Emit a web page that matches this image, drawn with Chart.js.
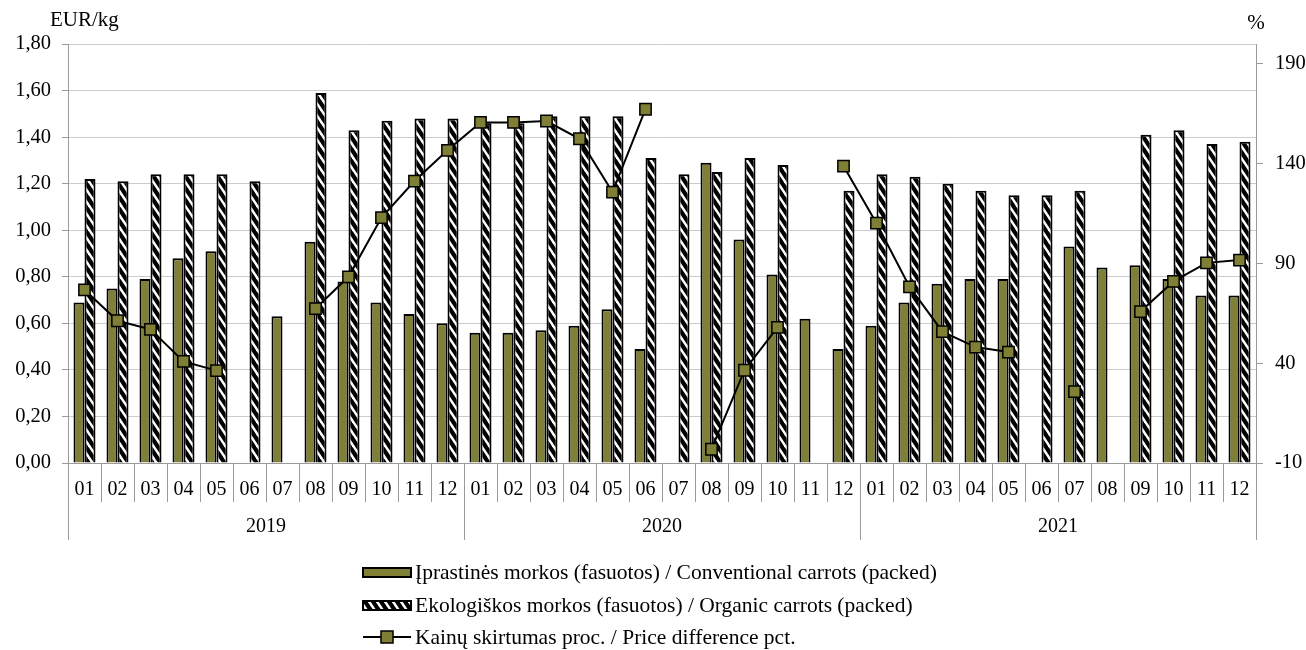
<!DOCTYPE html>
<html>
<head>
<meta charset="utf-8">
<script src="https://cdn.jsdelivr.net/npm/chart.js@4"></script>
<style>
  html, body { margin: 0; padding: 0; background: #fff; }
  #wrap { width: 1306px; height: 650px; }
</style>
</head>
<body>
<div id="wrap"><canvas id="carrots" width="1306" height="650"></canvas></div>
<script>
// month tick labels, one per category (2019-01 .. 2021-12)
const months = [
  '01','02','03','04','05','06','07','08','09','10','11','12',
  '01','02','03','04','05','06','07','08','09','10','11','12',
  '01','02','03','04','05','06','07','08','09','10','11','12'
];
const years = ['2019', '2020', '2021'];

// EUR/kg
const conventional = [
  0.69, 0.75, 0.79, 0.88, 0.91, null, 0.63, 0.95, 0.78, 0.69, 0.64, 0.60,
  0.56, 0.56, 0.57, 0.59, 0.66, 0.49, null, 1.29, 0.96, 0.81, 0.62, 0.49,
  0.59, 0.69, 0.77, 0.79, 0.79, null, 0.93, 0.84, 0.85, 0.79, 0.72, 0.72
];
const organic = [
  1.22, 1.21, 1.24, 1.24, 1.24, 1.21, null, 1.59, 1.43, 1.47, 1.48, 1.48,
  1.46, 1.46, 1.49, 1.49, 1.49, 1.31, 1.24, 1.25, 1.31, 1.28, null, 1.17,
  1.24, 1.23, 1.20, 1.17, 1.15, 1.15, 1.17, null, 1.41, 1.43, 1.37, 1.38
];
// %
const priceDiff = [
  76.8, 61.3, 57.0, 40.9, 36.3, null, null, 67.4, 83.3, 113.0, 131.3, 146.7,
  160.7, 160.7, 161.4, 152.5, 125.8, 167.3, null, -3.1, 36.5, 58.0, null, 138.8,
  110.2, 78.3, 55.8, 48.1, 45.6, null, 25.8, null, 65.9, 81.0, 90.3, 91.7
];
const rightTicks = [-10, 40, 90, 140, 190];

const seriesNames = [
  'Įprastinės morkos (fasuotos) / Conventional carrots (packed)',
  'Ekologiškos morkos (fasuotos) / Organic carrots (packed)',
  'Kainų skirtumas proc. / Price difference pct.'
];

const FONT = '"Liberation Serif", "Times New Roman", serif';
const OLIVE = '#7f7f35';
const AXIS_GREY = '#9a9a9a';

// black / white steep diagonal hatch for the organic bars
const makeHatch = () => {
  const w = 8, h = 12;
  const c = document.createElement('canvas');
  c.width = w;
  c.height = h;
  const g = c.getContext('2d');
  g.fillStyle = '#000';
  g.fillRect(0, 0, w, h);
  g.strokeStyle = '#fff';
  g.lineWidth = 2.4;
  [-w, 0, w].forEach((o) => {
    g.beginPath();
    g.moveTo(o - 2, -3);
    g.lineTo(o + w + 2, h + 3);
    g.stroke();
  });
  return g.createPattern(c, 'repeat');
};
const hatch = makeHatch();

// unit captions + the stacked legend under the axis
const extras = {
  id: 'extras',
  afterDraw(chart) {
    const ctx = chart.ctx;
    const area = chart.chartArea;
    ctx.save();
    ctx.fillStyle = '#000';
    ctx.font = '21px ' + FONT;
    ctx.textBaseline = 'middle';
    ctx.textAlign = 'left';
    ctx.fillText('EUR/kg', 50, 20);
    ctx.textAlign = 'center';
    ctx.fillText('%', area.right, 23);

    const x0 = 363;
    const boxW = 48;
    const rows = [572, 605, 637];
    const byName = (name) => chart.data.datasets.find((d) => d.label === name);

    // bar entries
    [0, 1].forEach((i) => {
      ctx.fillStyle = byName(seriesNames[i]).backgroundColor;
      ctx.fillRect(x0, rows[i] - 4, boxW, 9);
      ctx.lineWidth = 2;
      ctx.strokeStyle = '#000';
      ctx.strokeRect(x0, rows[i] - 4, boxW, 9);
    });
    // line entry
    ctx.strokeStyle = '#000';
    ctx.lineWidth = 2;
    ctx.beginPath();
    ctx.moveTo(x0, rows[2]);
    ctx.lineTo(x0 + boxW, rows[2]);
    ctx.stroke();
    ctx.fillStyle = OLIVE;
    ctx.fillRect(x0 + boxW / 2 - 6, rows[2] - 6, 12, 12);
    ctx.lineWidth = 1.5;
    ctx.strokeRect(x0 + boxW / 2 - 6, rows[2] - 6, 12, 12);

    ctx.fillStyle = '#000';
    ctx.textAlign = 'left';
    ctx.font = '21.5px ' + FONT;
    seriesNames.forEach((name, i) => ctx.fillText(name, x0 + boxW + 4, rows[i] + 1));
    ctx.restore();
  }
};

const ctx = document.getElementById('carrots');
window.chartInstance = new Chart(ctx, {
  type: 'bar',
  data: {
    labels: months,
    datasets: [
      {
        type: 'line',
        label: seriesNames[2],
        data: priceDiff,
        yAxisID: 'y1',
        borderColor: '#000',
        borderWidth: 2,
        pointStyle: 'rect',
        pointRadius: 8,
        pointBackgroundColor: OLIVE,
        pointBorderColor: '#000',
        pointBorderWidth: 1.5,
        spanGaps: false,
        tension: 0,
        order: 0
      },
      {
        label: seriesNames[0],
        data: conventional,
        yAxisID: 'y',
        backgroundColor: OLIVE,
        borderColor: '#000',
        borderWidth: 2,
        categoryPercentage: 0.667,
        barPercentage: 1.0,
        order: 1
      },
      {
        label: seriesNames[1],
        data: organic,
        yAxisID: 'y',
        backgroundColor: hatch,
        borderColor: '#000',
        borderWidth: 2,
        categoryPercentage: 0.667,
        barPercentage: 1.0,
        order: 1
      }
    ]
  },
  options: {
    responsive: false,
    animation: false,
    layout: { padding: { top: 44, bottom: 110, left: 0, right: 0 } },
    plugins: {
      legend: { display: false },
      tooltip: { enabled: false }
    },
    scales: {
      x: {
        type: 'category',
        position: 'bottom',
        weight: 0,
        offset: true,
        grid: {
          offset: true,
          drawOnChartArea: false,
          drawTicks: true,
          tickLength: 39,
          color: AXIS_GREY
        },
        border: { color: AXIS_GREY },
        ticks: {
          autoSkip: false,
          maxRotation: 0,
          padding: -24,
          color: '#000',
          font: { family: FONT, size: 20 }
        },
        afterFit: (scale) => { scale.height = 39; }
      },
      x2: {
        type: 'category',
        labels: years,
        position: 'bottom',
        weight: 1,
        offset: true,
        grid: {
          offset: true,
          drawOnChartArea: false,
          drawTicks: true,
          tickLength: 38,
          color: AXIS_GREY
        },
        border: { display: false },
        ticks: {
          autoSkip: false,
          maxRotation: 0,
          padding: -25,
          color: '#000',
          font: { family: FONT, size: 20 }
        },
        afterFit: (scale) => { scale.height = 38; }
      },
      y: {
        position: 'left',
        min: 0,
        max: 1.8,
        ticks: {
          stepSize: 0.2,
          padding: 11,
          color: '#000',
          font: { family: FONT, size: 20.5 },
          callback: (v) => Number(v).toFixed(2).replace('.', ',')
        },
        grid: { color: '#cccccc', tickColor: AXIS_GREY, tickLength: 6 },
        border: { color: AXIS_GREY },
        afterFit: (scale) => { scale.width = 68; }
      },
      y1: {
        position: 'right',
        min: -10,
        max: 200,
        afterBuildTicks: (scale) => {
          scale.ticks = rightTicks.map((value) => ({ value }));
        },
        ticks: {
          padding: 12,
          color: '#000',
          font: { family: FONT, size: 20.5 }
        },
        grid: { drawOnChartArea: false, color: AXIS_GREY, tickLength: 7 },
        border: { color: AXIS_GREY },
        afterFit: (scale) => { scale.width = 50; }
      }
    }
  },
  plugins: [extras]
});
</script>
</body>
</html>
